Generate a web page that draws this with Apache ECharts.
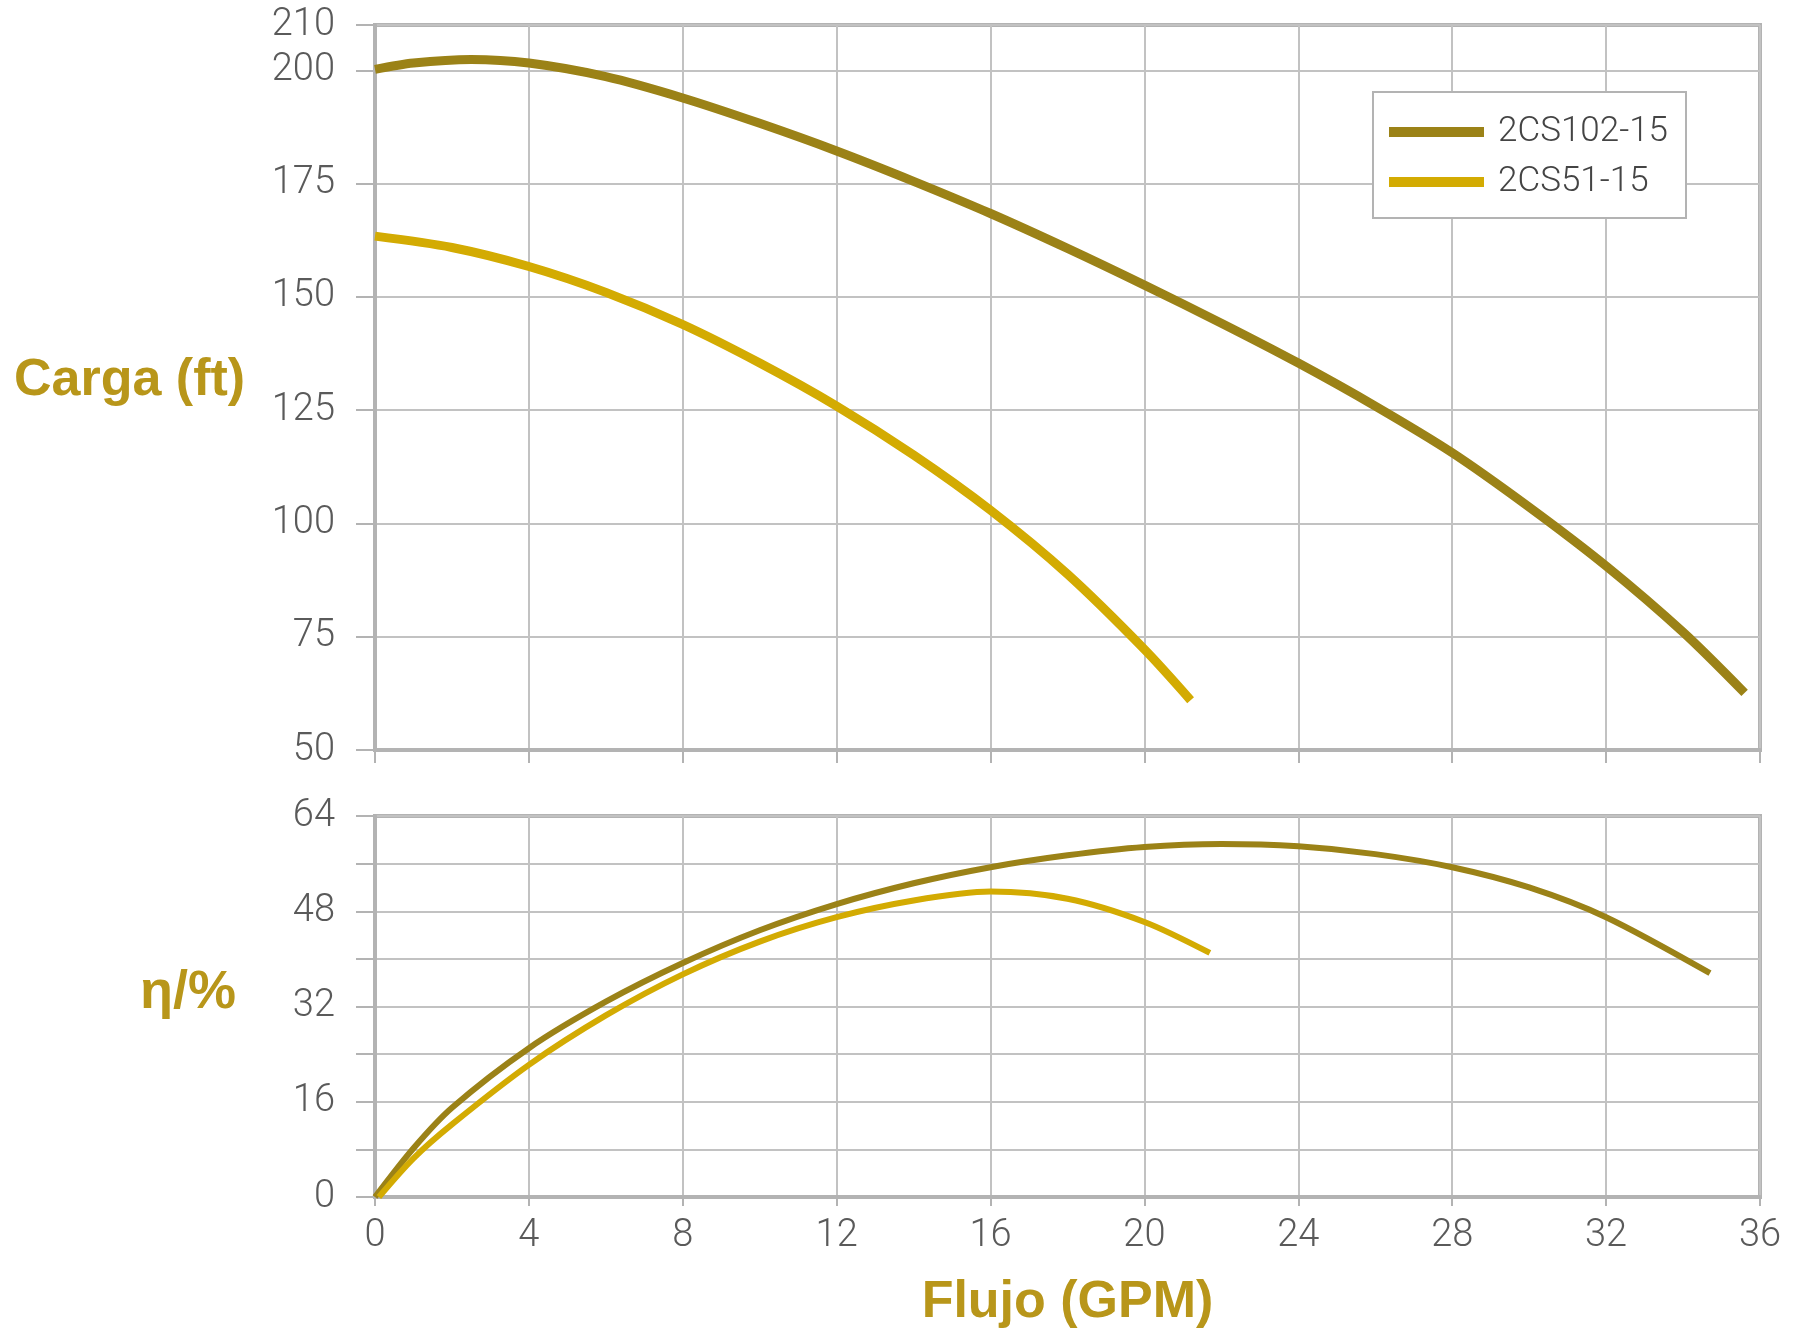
<!DOCTYPE html>
<html>
<head>
<meta charset="utf-8">
<style>
html,body{margin:0;padding:0;background:#fff;}
#chart{width:1793px;height:1330px;}
</style>
<script src="https://cdn.jsdelivr.net/npm/echarts@6/dist/echarts.min.js"></script>
</head>
<body>
<div id="chart"></div>
<script>
// Series names
const seriesNames = ['2CS102-15', '2CS51-15'];

// Head curves (Carga, ft) vs flow (GPM)
const flowHeadA = [0, 1, 2.5, 4, 6, 8, 10, 12, 14, 16, 18, 20, 22, 24, 26, 28, 30, 32, 34, 35.6];
const headA     = [200.2, 201.6, 202.4, 201.6, 198.6, 193.9, 188.3, 182.2, 175.5, 168.4, 160.7, 152.6, 144.2, 135.4, 125.9, 115.6, 103.6, 90.6, 76, 62.6];
const flowHeadB = [0, 2, 4, 6, 8, 10, 12, 14, 16, 18, 20, 21.2];
const headB     = [163.4, 160.9, 156.7, 151, 143.9, 135.4, 125.9, 115.1, 102.9, 88.8, 72.2, 61];

// Efficiency curves (η, %) vs flow (GPM)
const flowEffA = [0, 1, 2, 4, 6, 8, 10, 12, 14, 16, 18, 20, 22, 24, 26, 28, 30, 32, 34.7];
const effA     = [0, 8.2, 15, 25, 32.8, 39.3, 44.8, 49.2, 52.7, 55.4, 57.4, 58.8, 59.3, 58.9, 57.6, 55.4, 52, 47, 37.6];
const flowEffB = [0.1, 1, 2, 4, 6, 8, 10, 12, 14, 16, 18, 20, 21.7];
const effB     = [0, 6.5, 12.2, 22.2, 30.5, 37.4, 42.9, 47, 49.8, 51.3, 50.1, 46.2, 41];

// Axis titles
const titleHead = 'Carga (ft)';
const titleEff = 'η/%';
const titleFlow = 'Flujo (GPM)';

const colA = '#9b8217';
const colB = '#d3ab02';
const gold = '#b8961a';
const axisGray = '#b3b3b3';
const gridGray = '#c2c2c2';
const labelGray = '#5a5a5a';
const labelFont = 'Roboto, "Liberation Sans", sans-serif';
const titleFont = '"Liberation Sans", Arial, sans-serif';

function pairs(xs, ys) { return xs.map((x, i) => [x, ys[i]]); }

const chart = echarts.init(document.getElementById('chart'), null, {renderer: 'canvas'});

const xCommon = {
  type: 'value', min: 0, max: 36, interval: 4,
  axisLine: {show: true, lineStyle: {color: axisGray, width: 4}},
  splitLine: {show: true, lineStyle: {color: gridGray, width: 2}},
};
const yLabel = {color: labelGray, fontSize: 38, fontFamily: labelFont, fontWeight: 300, margin: 40};

function lineSeries(name, xi, data, color, width) {
  return {name: name, type: 'line', xAxisIndex: xi, yAxisIndex: xi, data: data,
    smooth: 0.3, showSymbol: false,
    lineStyle: {color: color, width: width, cap: 'butt'}, itemStyle: {color: color}};
}

chart.setOption({
  animation: false,
  backgroundColor: '#fff',
  grid: [
    {left: 375, top: 25, width: 1385, height: 725, show: true, borderColor: axisGray, borderWidth: 4, backgroundColor: 'transparent'},
    {left: 375, top: 816, width: 1385, height: 382, show: true, borderColor: axisGray, borderWidth: 4, backgroundColor: 'transparent'}
  ],
  legend: {
    data: seriesNames,
    orient: 'vertical',
    left: 1373, top: 92,
    padding: [20, 18, 16, 16],
    itemGap: 10,
    itemWidth: 95, itemHeight: 10,
    icon: 'rect',
    backgroundColor: '#fff',
    borderColor: axisGray, borderWidth: 2, borderRadius: 0,
    textStyle: {color: '#444', fontSize: 35, fontFamily: labelFont, fontWeight: 300, lineHeight: 32, padding: [8, 0, 0, 9]}
  },
  graphic: [
    {type: 'text', left: 131 - 117, top: 377 - 22, silent: true,
     style: {text: titleHead, fill: gold, fontSize: 52, fontWeight: 'bold', fontFamily: titleFont}},
    {type: 'text', left: 186 - 46, top: 989 - 23, silent: true,
     style: {text: titleEff, fill: gold, fontSize: 54, fontWeight: 'bold', fontFamily: titleFont}}
  ],
  xAxis: [
    Object.assign({}, xCommon, {
      gridIndex: 0,
      axisLabel: {show: false},
      axisTick: {show: true, length: 13, lineStyle: {color: axisGray, width: 2}}
    }),
    Object.assign({}, xCommon, {
      gridIndex: 1,
      axisLabel: {color: labelGray, fontSize: 38, fontFamily: labelFont, fontWeight: 300, margin: 20},
      axisTick: {show: true, length: 9, lineStyle: {color: axisGray, width: 2}},
      name: titleFlow,
      nameLocation: 'middle',
      nameGap: 106,
      nameTextStyle: {color: gold, fontSize: 52, fontWeight: 'bold', fontFamily: titleFont, verticalAlign: 'middle'}
    })
  ],
  yAxis: [
    {
      type: 'value', gridIndex: 0, min: 50, max: 210, interval: 25,
      axisLine: {show: true, lineStyle: {color: axisGray, width: 4}},
      axisTick: {show: true, length: 19, lineStyle: {color: axisGray, width: 2}},
      splitLine: {show: true, lineStyle: {color: gridGray, width: 2}},
      axisLabel: yLabel
    },
    {
      type: 'value', gridIndex: 1, min: 0, max: 64, interval: 8,
      axisLine: {show: true, lineStyle: {color: axisGray, width: 4}},
      axisTick: {show: true, length: 19, lineStyle: {color: axisGray, width: 2}},
      splitLine: {show: true, lineStyle: {color: gridGray, width: 2}},
      axisLabel: Object.assign({}, yLabel, {formatter: v => (v % 16 === 0 ? String(v) : '')})
    }
  ],
  series: [
    lineSeries(seriesNames[0], 0, pairs(flowHeadA, headA), colA, 9),
    lineSeries(seriesNames[1], 0, pairs(flowHeadB, headB), colB, 9),
    lineSeries(seriesNames[0], 1, pairs(flowEffA, effA), colA, 6),
    lineSeries(seriesNames[1], 1, pairs(flowEffB, effB), colB, 6)
  ]
});
</script>
</body>
</html>
